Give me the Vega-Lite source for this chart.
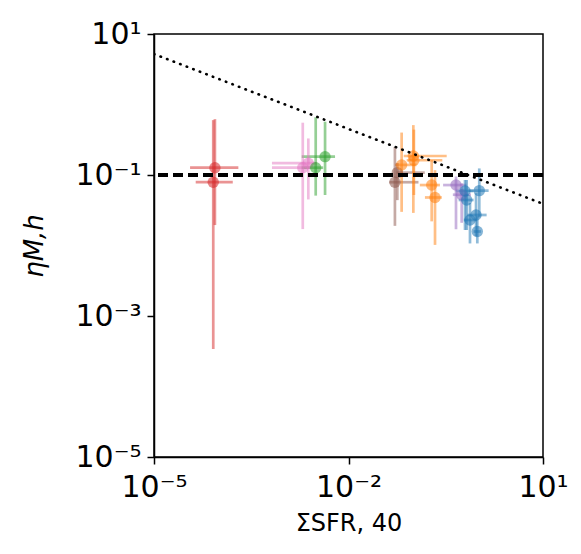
{
  "$schema": "https://vega.github.io/schema/vega-lite/v6.json",
  "width": 389,
  "height": 423,
  "autosize": {"type": "none"},
  "padding": {"left": 154, "top": 34, "right": 38, "bottom": 97},
  "background": "white",
  "config": {
    "view": {"stroke": "black", "strokeWidth": 1.5, "fill": "white"},
    "font": "DejaVu Sans",
    "axis": {
      "grid": false,
      "domainColor": "black",
      "domainWidth": 1.5,
      "tickColor": "black",
      "tickWidth": 1.5,
      "tickSize": 7,
      "labelColor": "black",
      "labelFont": "DejaVu Sans",
      "labelFontSize": 30,
      "labelOverlap": false,
      "labelBound": false,
      "labelFlush": false,
      "titleColor": "black",
      "titleFont": "DejaVu Sans",
      "titleFontWeight": "normal"
    }
  },
  "datasets": {
    "pts": [
      {"g": "red", "x": 8.7e-5, "y": 0.127, "xlo": 3.6e-5, "xhi": 2.0e-4, "ylo": 0.0195, "yhi": 0.62},
      {"g": "red", "x": 8.2e-5, "y": 0.079, "xlo": 4.4e-5, "xhi": 1.64e-4, "ylo": 3.4e-4, "yhi": 0.6},
      {"g": "pink", "x": 1.97e-3, "y": 0.127, "xlo": 6.6e-4, "xhi": 2.57e-3, "ylo": 0.0171, "yhi": 0.552},
      {"g": "pink", "x": 2.4e-3, "y": 0.147, "xlo": 6.6e-4, "xhi": 3.24e-3, "ylo": 0.045, "yhi": 0.33},
      {"g": "green", "x": 3.12e-3, "y": 0.127, "xlo": 1.9e-3, "xhi": 4.07e-3, "ylo": 0.051, "yhi": 0.66},
      {"g": "green", "x": 4.35e-3, "y": 0.182, "xlo": 1.9e-3, "xhi": 6.2e-3, "ylo": 0.052, "yhi": 0.57},
      {"g": "brown", "x": 0.052, "y": 0.079, "xlo": 0.0427, "xhi": 0.12, "ylo": 0.019, "yhi": 0.25},
      {"g": "brown", "x": 0.0566, "y": 0.108, "xlo": 0.055, "xhi": 0.15, "ylo": 0.044, "yhi": 0.148},
      {"g": "orange", "x": 0.066, "y": 0.139, "xlo": 0.052, "xhi": 0.112, "ylo": 0.030, "yhi": 0.40},
      {"g": "orange", "x": 0.1, "y": 0.186, "xlo": 0.071, "xhi": 0.327, "ylo": 0.029, "yhi": 0.51},
      {"g": "orange", "x": 0.102, "y": 0.162, "xlo": 0.079, "xhi": 0.28, "ylo": 0.052, "yhi": 0.44},
      {"g": "orange", "x": 0.192, "y": 0.072, "xlo": 0.126, "xhi": 0.257, "ylo": 0.022, "yhi": 0.162},
      {"g": "orange", "x": 0.216, "y": 0.048, "xlo": 0.151, "xhi": 0.275, "ylo": 0.0102, "yhi": 0.117},
      {"g": "purple", "x": 0.455, "y": 0.072, "xlo": 0.288, "xhi": 0.66, "ylo": 0.017, "yhi": 0.095},
      {"g": "purple", "x": 0.557, "y": 0.0525, "xlo": 0.407, "xhi": 0.776, "ylo": 0.021, "yhi": 0.076},
      {"g": "blue", "x": 1.04, "y": 0.060, "xlo": 0.71, "xhi": 1.45, "ylo": 0.025, "yhi": 0.124},
      {"g": "blue", "x": 0.627, "y": 0.0593, "xlo": 0.45, "xhi": 0.85, "ylo": 0.0166, "yhi": 0.085},
      {"g": "blue", "x": 0.665, "y": 0.0442, "xlo": 0.5, "xhi": 0.85, "ylo": 0.0166, "yhi": 0.085},
      {"g": "blue", "x": 0.927, "y": 0.0271, "xlo": 0.68, "xhi": 1.35, "ylo": 0.0135, "yhi": 0.055},
      {"g": "blue", "x": 0.748, "y": 0.023, "xlo": 0.6, "xhi": 0.95, "ylo": 0.0107, "yhi": 0.04},
      {"g": "blue", "x": 0.97, "y": 0.0158, "xlo": 0.85, "xhi": 1.1, "ylo": 0.0107, "yhi": 0.026}
    ],
    "dotted": [
      {"x": 1e-5, "y": 5.2},
      {"x": 10, "y": 0.039}
    ]
  },
  "data": {"name": "pts"},
  "layer": [
    {
      "mark": {"type": "rule", "strokeWidth": 2.7, "opacity": 0.5},
      "encoding": {
        "x": {"field": "xlo", "type": "quantitative",
          "scale": {"type": "log", "domain": [1e-5, 10], "nice": false},
          "axis": {
            "values": [1e-5, 0.01, 10],
            "labelExpr": "datum.value < 1e-4 ? '10⁻⁵' : datum.value < 1 ? '10⁻²' : '10¹'",
            "labelPadding": 8,
            "title": "ΣSFR, 40",
            "titleFontSize": 24,
            "titlePadding": 9
          }
        },
        "x2": {"field": "xhi"},
        "y": {"field": "y", "type": "quantitative",
          "scale": {"type": "log", "domain": [1e-5, 10], "nice": false},
          "axis": {
            "values": [1e-5, 0.001, 0.1, 10],
            "labelExpr": "datum.value < 1e-4 ? '10⁻⁵' : datum.value < 0.01 ? '10⁻³' : datum.value < 1 ? '10⁻¹' : '10¹'",
            "labelPadding": 6,
            "title": "ηM,h",
            "titleFontSize": 26,
            "titleFontStyle": "italic",
            "titlePadding": 27
          }
        },
        "color": {"field": "g", "type": "nominal",
          "scale": {"domain": ["blue", "orange", "green", "red", "purple", "brown", "pink"],
            "range": ["#1f77b4", "#ff7f0e", "#2ca02c", "#d62728", "#9467bd", "#8c564b", "#e377c2"]},
          "legend": null}
      }
    },
    {
      "mark": {"type": "rule", "strokeWidth": 2.7, "opacity": 0.5},
      "encoding": {
        "x": {"field": "x", "type": "quantitative"},
        "y": {"field": "ylo", "type": "quantitative"},
        "y2": {"field": "yhi"},
        "color": {"field": "g", "type": "nominal", "legend": null}
      }
    },
    {
      "mark": {"type": "point", "filled": true, "size": 130, "opacity": 0.55},
      "encoding": {
        "x": {"field": "x", "type": "quantitative"},
        "y": {"field": "y", "type": "quantitative"},
        "color": {"field": "g", "type": "nominal", "legend": null}
      }
    },
    {
      "mark": {"type": "rule", "color": "black", "strokeWidth": 3, "strokeDash": [10, 5]},
      "encoding": {"y": {"datum": 0.1}}
    },
    {
      "data": {"name": "dotted"},
      "mark": {"type": "line", "color": "black", "strokeWidth": 2.6, "strokeDash": [0.5, 6.5], "strokeCap": "round", "clip": true},
      "encoding": {
        "x": {"field": "x", "type": "quantitative"},
        "y": {"field": "y", "type": "quantitative"}
      }
    }
  ]
}
